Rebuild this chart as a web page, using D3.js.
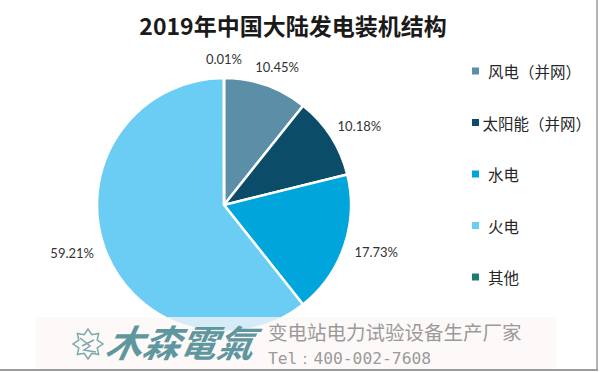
<!DOCTYPE html>
<html>
<head>
<meta charset="utf-8">
<script src="https://cdn.jsdelivr.net/npm/d3@7"></script>
<style>
  html, body { margin: 0; padding: 0; background: #fff; }
  svg { display: block; }
</style>
</head>
<body>
<svg id="chart" width="600" height="372"></svg>
<script>
const title = "2019年中国大陆发电装机结构";
const categories = ["风电（并网）", "太阳能（并网）", "水电", "火电", "其他"];
const values = [10.45, 10.18, 17.73, 59.21, 0.01];
const valueLabels = ["10.45%", "10.18%", "17.73%", "59.21%", "0.01%"];
const colors = ["#5b8ea7", "#0b4c68", "#00a5dc", "#6ccdf4", "#1b7d6f"];
const watermarkLine1 = "变电站电力试验设备生产厂家";
const watermarkLine2 = "Tel：400-002-7608";
const logoText = "木森電氣";

const svg = d3.select("#chart");
const cx = 224, cy = 205, r = 127;

// title
svg.append("text")
  .attr("x", 293).attr("y", 35)
  .attr("text-anchor", "middle")
  .attr("font-family", "'Noto Sans CJK SC', sans-serif")
  .attr("font-weight", "bold")
  .attr("font-size", 23)
  .attr("fill", "#1a1a1a")
  .text(title);

const data = categories.map((c, i) => ({cat: c, value: values[i], label: valueLabels[i], color: colors[i]}));

const pie = d3.pie().sort(null).value(d => d.value).startAngle(0).endAngle(2 * Math.PI);
const arcs = pie(data);
const arc = d3.arc().innerRadius(0).outerRadius(r);

const g = svg.append("g").attr("transform", `translate(${cx},${cy})`);
g.selectAll("path.slice").data(arcs).enter().append("path")
  .attr("class", "slice")
  .attr("d", arc)
  .attr("fill", d => d.data.color)
  .attr("stroke", "#fff")
  .attr("stroke-width", 2.5)
  .attr("stroke-linejoin", "round");

// outside-end labels
g.selectAll("text.lbl").data(arcs).enter().append("text")
  .attr("class", "lbl")
  .attr("font-family", "Lato, 'Open Sans', sans-serif")
  .attr("font-size", 13)
  .attr("fill", "#333")
  .attr("text-anchor", "middle")
  .attr("dominant-baseline", "central")
  .text(d => d.data.label)
  .each(function(d) {
    const a = (d.startAngle + d.endAngle) / 2;
    const w = this.getComputedTextLength();
    const h = 14;
    const base = r + 12;
    const x = Math.sin(a) * base + Math.sin(a) * w / 2;
    const y = -Math.cos(a) * base - Math.cos(a) * h / 2;
    d3.select(this).attr("x", x).attr("y", y);
  });

// legend
const legend = svg.append("g");
const legY = d3.scalePoint().domain(categories).range([71, 277]);
categories.forEach((c, i) => {
  const y = legY(c);
  legend.append("rect")
    .attr("x", 472).attr("y", y - 3.5)
    .attr("width", 7).attr("height", 7)
    .attr("fill", colors[i]);
  const t = legend.append("text")
    .attr("x", 488).attr("y", y)
    .attr("dominant-baseline", "central")
    .attr("font-family", "'Noto Sans CJK SC', sans-serif")
    .attr("font-size", 15.5)
    .attr("fill", "#262626")
    .text(c);
  const tw = t.node().getComputedTextLength();
  if (488 + tw > 591) t.attr("x", 591 - tw);
});

// watermark banner
const wm = svg.append("g");
wm.append("rect")
  .attr("x", 36).attr("y", 317)
  .attr("width", 520).attr("height", 52)
  .attr("fill", "#fdf6f6")
  .attr("opacity", 0.72);
const gear = d3.range(0, 16).map(i => {
  const a = i / 16 * 2 * Math.PI;
  const rr = i % 2 === 0 ? 15 : 10;
  return [88 + Math.cos(a) * rr, 344 + Math.sin(a) * rr];
});
wm.append("path")
  .attr("d", d3.line().curve(d3.curveLinearClosed)(gear))
  .attr("fill", "none")
  .attr("stroke", "#7aa8ad")
  .attr("stroke-width", 1.5);
wm.append("path")
  .attr("d", "M80,338 L90,346 L84,350 L96,352 M82,346 L94,340")
  .attr("fill", "none")
  .attr("stroke", "#7aa8ad")
  .attr("stroke-width", 1.5);
wm.append("text")
  .attr("x", 106).attr("y", 357)
  .attr("font-family", "'Noto Sans CJK TC', sans-serif")
  .attr("font-weight", "bold")
  .attr("font-style", "italic")
  .attr("transform", "skewX(-12)")
  .attr("font-size", 37)
  .attr("fill", "#5f979e")
  .attr("dx", 74)
  .text(logoText);
wm.append("text")
  .attr("x", 268).attr("y", 340)
  .attr("font-family", "'Noto Sans CJK SC', sans-serif")
  .attr("font-size", 19.5)
  .attr("fill", "#9a9a9a")
  .text(watermarkLine1);
wm.append("text")
  .attr("x", 268).attr("y", 364)
  .attr("font-family", "'DejaVu Sans Mono', monospace")
  .attr("font-size", 16.3)
  .attr("fill", "#9a9a9a")
  .text(watermarkLine2);

// frame lines right and bottom
svg.append("line").attr("x1", 597).attr("x2", 597).attr("y1", 0).attr("y2", 370)
  .attr("stroke", "#9c9c9c").attr("stroke-width", 1.5);
svg.append("line").attr("x1", 0).attr("x2", 598).attr("y1", 370).attr("y2", 370)
  .attr("stroke", "#9c9c9c").attr("stroke-width", 2);
</script>
</body>
</html>
